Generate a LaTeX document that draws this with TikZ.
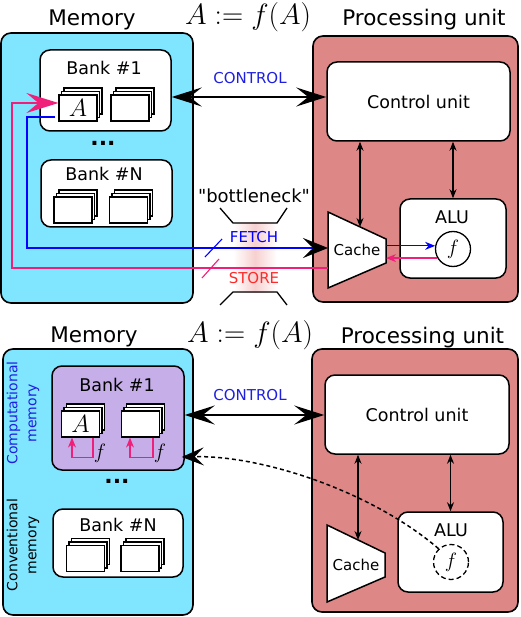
\documentclass[tikz,border=0pt]{standalone}
\usepackage[no-math]{fontspec}
\setmainfont{DejaVu Sans}[Ligatures=TeXOff]
\usetikzlibrary{arrows.meta,calc}
\definecolor{memcyan}{HTML}{80E5FF}
\definecolor{pucol}{HTML}{DE8787}
\definecolor{purp}{HTML}{C6AFE9}
\definecolor{busblue}{HTML}{0000FF}
\definecolor{lblblue}{HTML}{1F1FE0}
\definecolor{buspink}{HTML}{F0207A}
\definecolor{storered}{HTML}{FF2A2A}
\definecolor{bnpink}{HTML}{F7D0D0}
\begin{document}
\begin{tikzpicture}[x=1pt,y=-1pt,
  outer/.style={draw, line width=1.6pt, rounded corners=10pt, inner sep=0},
  memory/.style={outer, fill=memcyan},
  pu/.style={outer, fill=pucol},
  bank/.style={draw, line width=1.5pt, rounded corners=10pt, fill=white, inner sep=0},
  unit/.style={draw, line width=1.5pt, rounded corners=10pt, fill=white, inner sep=0},
  layer/.style={draw, fill=white, line width=1.2pt, minimum width=38pt, minimum height=26pt, inner sep=0},
  title/.style={font=\fontsize{21.5}{25}\selectfont, anchor=base},
  eqtitle/.style={font=\fontsize{24}{28}\selectfont, scale=1.18, anchor=base, inner sep=0.5pt},
  lbl/.style={font=\fontsize{17.5}{20}\selectfont},
  smalllbl/.style={font=\fontsize{15}{18}\selectfont},
  bluelbl/.style={font=\fontsize{15}{18}\selectfont, text=lblblue},
  sidelbl/.style={font=\fontsize{14}{19}\selectfont, rotate=90, align=center},
  dotsnode/.style={font=\fontsize{22}{24}\selectfont\bfseries},
  bigA/.style={font=\fontsize{24}{28}\selectfont},
  fcirc/.style={circle, draw, line width=1.3pt, fill=white, minimum size=35pt, inner sep=0, font=\fontsize{21}{24}\selectfont},
  flbl/.style={font=\fontsize{20}{24}\selectfont},
  cachestyle/.style={draw, line width=1.5pt, fill=white, line join=miter},
  bigarrow/.style={line width=1.6pt, {Stealth[length=30pt,width=19pt,inset=12pt]}-{Stealth[length=30pt,width=19pt,inset=12pt]}},
  vdarrow/.style={line width=1.2pt, {Stealth[length=9pt,width=7pt]}-{Stealth[length=9pt,width=7pt]}},
  stack/.pic={
    \node[layer] at (5,-7) {};
    \node[layer] at (2.5,-3.5) {};
    \node[layer] (-front) at (0,0) {};
  }
]
\useasboundingbox (0,0) rectangle (520,617);

% ================= TOP PANEL =================
\node[title] (memT1) at (92,26) {Memory};
\node[eqtitle] (eq1) at (248,25) {$A:=f(A)$};
\node[title] (puT1) at (424,26) {Processing unit};

\node[memory, minimum width=192pt, minimum height=270pt] (mem1) at (97,168) {};
\node[pu, minimum width=205pt, minimum height=266pt] (pu1) at (415.5,169) {};

\node[bank, minimum width=131pt, minimum height=81pt] (bank1) at (105.5,90.5) {};
\node[lbl] (bank1lbl) at (104,68) {Bank \#1};
\pic (s1) at (78,108) {stack};
\pic (s2) at (130,108) {stack};
\node[bigA] (A1) at (s1-front) {$A$};

\node[dotsnode] (dots1) at (103,143) {...};

\node[bank, minimum width=131pt, minimum height=67pt] (bankN1) at (106.5,193.5) {};
\node[lbl] (bankN1lbl) at (104,174) {Bank \#N};
\pic (s3) at (73,210) {stack};
\pic (s4) at (128.5,210) {stack};

\node[unit, minimum width=183pt, minimum height=79pt] (cu1) at (418.5,101.5) {};
\node[lbl] (cu1lbl) at (cu1) {Control unit};

\node[unit, minimum width=106pt, minimum height=79pt] (alu1) at (453,238.5) {};
\node[lbl] (alu1lbl) at (452,217) {ALU};
\node[fcirc] (f1) at (453,249) {$f$};

\coordinate (c1a) at (328,212);
\coordinate (c1b) at (386,239);
\coordinate (c1c) at (386,263);
\coordinate (c1d) at (328,288);
\draw[cachestyle] (c1a) -- (c1b) -- (c1c) -- (c1d) -- cycle;
\node[smalllbl] (cache1lbl) at (357,250) {Cache};

% control arrow
\coordinate (cy1) at (0,97);
\draw[bigarrow] (bank1.east |- cy1) -- (cu1.west |- cy1);
\node[bluelbl] (ctl1) at (250,78) {CONTROL};

% vertical arrows
\coordinate (vx1) at (360,227);
\draw[vdarrow] (cu1.south -| vx1) -- (vx1);
\draw[vdarrow] (cu1.south -| alu1.north) -- (alu1.north);

% small arrows cache <-> f
\draw[busblue, line width=1.2pt, -{Stealth[length=10pt,width=8pt]}] (c1b |- f1.170) -- (f1.170);
\draw[buspink, line width=1.2pt, -{Stealth[length=10pt,width=8pt]}] (f1.210) -- (c1b |- f1.210);

% bottleneck shading
\shade[left color=white, right color=bnpink] (233,223) rectangle (255,292);
\shade[left color=bnpink, right color=white] (255,223) rectangle (277,292);
\coordinate (bn1) at (220,208);
\coordinate (bn2) at (233,223);
\coordinate (bn3) at (277,223);
\coordinate (bn4) at (287,208);
\coordinate (bn5) at (220,305);
\coordinate (bn6) at (233,292);
\coordinate (bn7) at (277,292);
\coordinate (bn8) at (287,305);
\draw[line width=1.3pt] (bn1) -- (bn2) -- (bn3) -- (bn4);
\draw[line width=1.3pt] (bn5) -- (bn6) -- (bn7) -- (bn8);
\node[font=\fontsize{18}{22}\selectfont] (bnlbl) at (254,196) {"bottleneck"};

% FETCH bus
\coordinate (fetchturn) at (27,248);
\draw[busblue, line width=1.6pt, -{Stealth[length=25pt,width=20pt,inset=10pt,black]}]
  ($(s1-front.west)+(-3,9)$) -| (fetchturn) -- (fetchturn -| c1a);
% STORE bus
\coordinate (storeturn) at (12,268);
\draw[buspink, line width=1.6pt, -{Stealth[length=32pt,width=20pt,inset=12pt]}]
  (c1a |- storeturn) -- (storeturn) |- ($(s1-front.west)+(0,-5)$);
% slashes
\coordinate (sl1a) at (205,257);
\coordinate (sl1b) at (222,239);
\coordinate (sl2a) at (202,278);
\coordinate (sl2b) at (219,259);
\draw[busblue, line width=1.1pt] (sl1a) -- (sl1b);
\draw[buspink, line width=1.1pt] (sl2a) -- (sl2b);
\node[bluelbl, text=busblue] (fetchlbl) at (254,237.5) {FETCH};
\node[smalllbl, text=storered] (storelbl) at (254,278.5) {STORE};

% ================= BOTTOM PANEL =================
\node[title] (memT2) at (94,342) {Memory};
\node[eqtitle] (eq2) at (250,342) {$A:=f(A)$};
\node[title] (puT2) at (422.5,343) {Processing unit};

\node[memory, minimum width=190pt, minimum height=266pt] (mem2) at (98,482) {};
\node[pu, minimum width=206pt, minimum height=263pt] (pu2) at (415,480.5) {};

\node[sidelbl, text=lblblue] (complbl) at (23,413) {Computational\\memory};
\node[sidelbl] (convlbl) at (23,545) {Conventional\\memory};

\node[bank, fill=purp, minimum width=132pt, minimum height=104pt] (bank1b) at (118,418) {};
\node[lbl] (bank1blbl) at (117,385) {Bank \#1};
\pic (t1) at (80.5,424) {stack};
\pic (t2) at (140.5,424) {stack};
\node[bigA] (A2) at (t1-front) {$A$};

\draw[buspink, line width=1.2pt, -{Stealth[length=10pt,width=8pt]}]
  ($(t1-front.south)+(12.5,0)$) -- ++(0,20) -| ($(t1-front.south)+(-8.5,0)$);
\draw[buspink, line width=1.2pt, -{Stealth[length=10pt,width=8pt]}]
  ($(t2-front.south)+(12.5,0)$) -- ++(0,20) -| ($(t2-front.south)+(-10.5,0)$);
\node[flbl] (fl1) at (100,453) {$f$};
\node[flbl] (fl2) at (160,453) {$f$};

\node[dotsnode] (dots2) at (117,481) {...};

\node[bank, minimum width=130pt, minimum height=68pt] (bankN2) at (118,543) {};
\node[lbl] (bankN2lbl) at (118,525) {Bank \#N};
\pic (t3) at (85.5,558.5) {stack};
\pic (t4) at (140,558.5) {stack};

\node[unit, minimum width=184pt, minimum height=79pt] (cu2) at (417,414.5) {};
\node[lbl] (cu2lbl) at (cu2) {Control unit};

\node[unit, minimum width=105pt, minimum height=80pt] (alu2) at (450.5,552) {};
\node[lbl] (alu2lbl) at (451,530) {ALU};
\node[fcirc, dashed, dash pattern=on 5pt off 3pt] (f2) at (451,562) {$f$};

\coordinate (c2a) at (327,525);
\coordinate (c2b) at (385,553);
\coordinate (c2c) at (385,577);
\coordinate (c2d) at (327,602);
\draw[cachestyle] (c2a) -- (c2b) -- (c2c) -- (c2d) -- cycle;
\node[smalllbl] (cache2lbl) at (356,565) {Cache};

\coordinate (cy2) at (0,415);
\draw[bigarrow] (bank1b.east |- cy2) -- (cu2.west |- cy2);
\node[bluelbl] (ctl2) at (250,395) {CONTROL};

\coordinate (vx2) at (358,540);
\draw[vdarrow] (cu2.south -| vx2) -- (vx2);
\draw[vdarrow] (cu2.south -| alu2.north) -- (alu2.north);

\draw[line width=1.5pt, dash pattern=on 4pt off 3pt, -{Stealth[length=22pt,width=18pt,inset=9pt]}]
  (f2.133) .. controls (370,490) and (260,455) .. ($(bank1b.east)+(-3,39)$);
\end{tikzpicture}
\end{document}
